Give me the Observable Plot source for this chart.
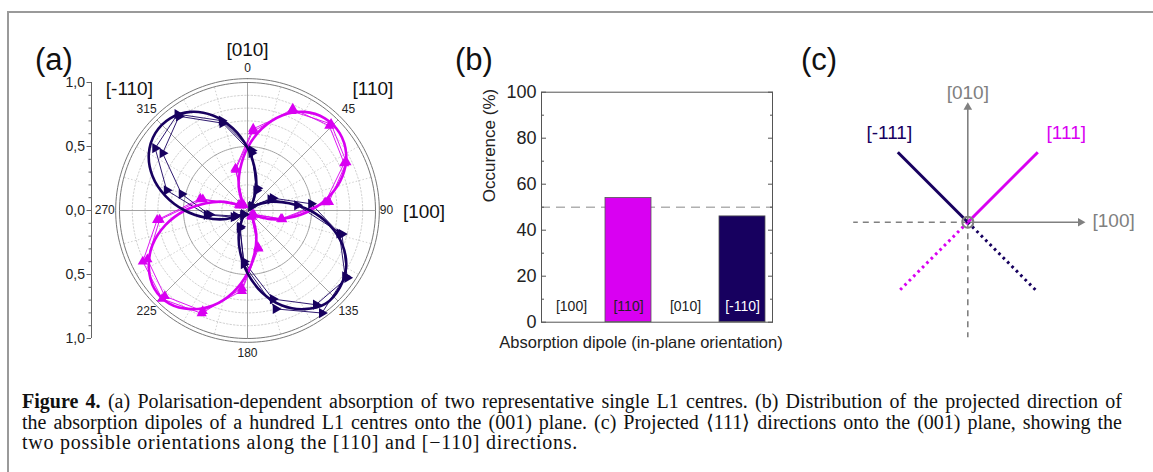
<!DOCTYPE html>
<html><head><meta charset="utf-8">
<script src="https://cdn.jsdelivr.net/npm/d3@7"></script>
<script src="https://cdn.jsdelivr.net/npm/@observablehq/plot@0.6"></script>
<style>
html,body{margin:0;padding:0;background:#fff;}
#fig{position:relative;width:1153px;height:472px;overflow:hidden;font-family:"Liberation Sans",Arial,sans-serif;background:#fff;}
.panel{position:absolute;}
.panel svg{overflow:visible;}
.plab{position:absolute;font-size:31px;line-height:1;color:#111;}
#cap{position:absolute;left:22px;top:391px;width:1100px;font-family:"Liberation Serif",serif;font-size:20px;line-height:20.5px;color:#111;}
#cap .j{text-align:justify;text-align-last:justify;}
#cap .l{letter-spacing:0.75px;}
</style></head><body>
<div id="fig">
<div style="position:absolute;left:7px;top:11px;width:1146px;height:2px;background:#9a9a9a"></div>
<div style="position:absolute;left:7px;top:11px;width:2px;height:461px;background:#9a9a9a"></div>
<div id="pa" class="panel" style="left:0;top:0"></div>
<div id="pb" class="panel" style="left:440px;top:70px"></div>
<div id="pc" class="panel" style="left:840px;top:60px"></div>
<div class="plab" style="left:35px;top:44px">(a)</div>
<div class="plab" style="left:455px;top:44px">(b)</div>
<div class="plab" style="left:801px;top:44px">(c)</div>
<div id="cap">
<div class="j"><b>Figure 4.</b> (a) Polarisation-dependent absorption of two representative single L1 centres. (b) Distribution of the projected direction of</div>
<div class="j">the absorption dipoles of a hundred L1 centres onto the (001) plane. (c) Projected ⟨111⟩ directions onto the (001) plane, showing the</div>
<div class="l">two possible orientations along the [110] and [−110] directions.</div>
</div>
</div>
<script>
// ---------------- DATA ----------------
// Panel (a): polar absorption data (angle in degrees, normalised absorption)
const dataAngles = [4, 24, 44, 64, 84, 104, 124, 144, 164, 184, 204, 224, 244, 264, 284, 304, 324, 344];
const magentaRun1 = [0.64, 0.85, 0.94, 0.86, 0.64, 0.28, 0.06, 0.05, 0.30, 0.61, 0.88, 0.96, 0.91, 0.71, 0.38, 0.08, 0.05, 0.34];
const magentaRun2 = [0.62, 0.87, 0.92, 0.84, 0.61, 0.27, 0.05, 0.06, 0.31, 0.63, 0.86, 0.93, 0.87, 0.69, 0.36, 0.07, 0.06, 0.33];
const navyRun1 = [0.47, 0.17, 0.04, 0.20, 0.39, 0.76, 0.94, 0.91, 0.72, 0.40, 0.15, 0.04, 0.12, 0.32, 0.65, 0.87, 0.93, 0.73];
const navyRun2 = [0.45, 0.19, 0.05, 0.22, 0.50, 0.74, 0.92, 0.99, 0.80, 0.42, 0.14, 0.05, 0.10, 0.30, 0.53, 0.80, 0.91, 0.71];
const fitAngles = [0, 10, 20, 30, 40, 50, 60, 70, 80, 90, 100, 110, 120, 130, 140, 150, 160, 170,
                   180, 190, 200, 210, 220, 230, 240, 250, 260, 270, 280, 290, 300, 310, 320, 330, 340, 350];
const magentaFit = [0.49, 0.65, 0.79, 0.89, 0.94, 0.94, 0.89, 0.79, 0.65, 0.49, 0.33, 0.20, 0.09, 0.04, 0.04, 0.09, 0.20, 0.33,
                    0.49, 0.65, 0.79, 0.89, 0.95, 0.95, 0.89, 0.79, 0.65, 0.49, 0.33, 0.20, 0.09, 0.04, 0.04, 0.09, 0.20, 0.33];
const navyFit = [0.49, 0.33, 0.20, 0.09, 0.04, 0.04, 0.09, 0.20, 0.33, 0.49, 0.65, 0.79, 0.89, 0.94, 0.95, 0.89, 0.79, 0.65,
                 0.49, 0.33, 0.20, 0.09, 0.04, 0.04, 0.09, 0.20, 0.33, 0.49, 0.65, 0.79, 0.89, 0.94, 0.94, 0.89, 0.79, 0.65];
const angleTicks = [0, 45, 90, 135, 180, 225, 270, 315];
const radialTicks = [-1, -0.5, 0, 0.5, 1];
const directionLabels = ["[010]", "[110]", "[100]", "[-110]"];
const directionAngles = [0, 45.8, 90.4, 315.9];

// Panel (b): occurrence of dipole orientations
const barCategories = ["[100]", "[110]", "[010]", "[-110]"];
const barValues = [0, 54, 0, 46];
const referenceLevel = 50;
const yTicksB = [0, 20, 40, 60, 80, 100];

// Panel (c): projected <111> directions (unit vectors in the (001) plane)
const projNames = ["[-111]", "[111]"];
const projDirs = [[-1, 1], [1, 1]];
const crystalAxes = ["[010]", "[100]"];

// ---------------- COLOURS ----------------
const MAG = "#d900f2", NAVY = "#17005f", GRAY = "#808080";
const DEG = Math.PI / 180;
const polar = (a, r) => ({x: r * Math.sin(a * DEG), y: r * Math.cos(a * DEG)});
const series = (angles, vals) => angles.map((a, i) => ({a, r: vals[i], ...polar(a, vals[i])}));

// ---------------- PANEL A ----------------
{
  const xMin = -1.21875;
  const ring = r => d3.range(0, 361, 2).map(a => polar(a, r));
  const gridMarks = [];
  [0.1, 0.2, 0.3, 0.4, 0.6, 0.7, 0.8, 0.9].forEach(r =>
    gridMarks.push(Plot.line(ring(r), {x: "x", y: "y", stroke: "#c4c4c4", strokeWidth: 0.8, strokeDasharray: "1.5,2"})));
  const spokesMinor = d3.range(0, 360, 15).filter(a => a % 45 !== 0).map(a => polar(a, 1));
  const spokesMajor = d3.range(0, 360, 45).map(a => polar(a, 1));
  gridMarks.push(Plot.link(spokesMinor, {x1: () => 0, y1: () => 0, x2: "x", y2: "y", stroke: "#c4c4c4", strokeWidth: 0.8, strokeDasharray: "1.5,2"}));
  gridMarks.push(Plot.link(spokesMajor, {x1: () => 0, y1: () => 0, x2: "x", y2: "y", stroke: "#999", strokeWidth: 0.9}));
  gridMarks.push(Plot.line(ring(0.5), {x: "x", y: "y", stroke: "#999", strokeWidth: 0.9}));
  gridMarks.push(Plot.line(ring(1.0), {x: "x", y: "y", stroke: "#777", strokeWidth: 1}));
  gridMarks.push(Plot.line(ring(1.03), {x: "x", y: "y", stroke: "#777", strokeWidth: 1}));

  const fmt = d => Math.abs(d).toFixed(1).replace(".", ",");
  const angleLabelData = angleTicks.map(a => ({t: String(a), ...polar(a, a === 90 ? 1.085 : 1.115)}));
  const dirLabelData = directionLabels.map((t, i) => ({t, ...polar(directionAngles[i], [1.254, 1.367, 1.379, 1.326][i])}));

  const chart = Plot.plot({
    width: 440, height: 380,
    marginLeft: 91, marginRight: 65, marginTop: 82, marginBottom: 42,
    x: {domain: [xMin, 1], axis: null},
    y: {domain: [-1, 1], axis: null},
    style: {background: "transparent", fontFamily: "Liberation Sans, Arial, sans-serif", color: "#222"},
    marks: [
      ...gridMarks,
      Plot.ruleX([xMin], {y1: () => -1, y2: () => 1, stroke: "#666", strokeWidth: 1}),
      Plot.axisY({ticks: d3.range(-10, 11).map(d => d / 10), tickSize: 2.5, tickFormat: () => "", stroke: "#666", label: null}),
      Plot.axisY({ticks: radialTicks, tickSize: 4.5, tickPadding: 2, tickFormat: fmt, fontSize: 14, stroke: "#666", label: null}),
      // measured data (thin lines, two runs each)
      Plot.line(series(dataAngles, magentaRun1), {x: "x", y: "y", curve: "linear-closed", stroke: MAG, strokeWidth: 0.9}),
      Plot.line(series(dataAngles, magentaRun2), {x: "x", y: "y", curve: "linear-closed", stroke: MAG, strokeWidth: 0.9}),
      Plot.line(series(dataAngles, navyRun1), {x: "x", y: "y", curve: "linear-closed", stroke: NAVY, strokeWidth: 0.9}),
      Plot.line(series(dataAngles, navyRun2), {x: "x", y: "y", curve: "linear-closed", stroke: NAVY, strokeWidth: 0.9}),
      // fits
      Plot.line(series(fitAngles, magentaFit), {x: "x", y: "y", curve: "catmull-rom-closed", stroke: MAG, strokeWidth: 2.6}),
      Plot.line(series(fitAngles, navyFit), {x: "x", y: "y", curve: "catmull-rom-closed", stroke: NAVY, strokeWidth: 2.6}),
      // markers
      Plot.dot(series(dataAngles, magentaRun1), {x: "x", y: "y", symbol: "triangle", fill: MAG, r: 3.8}),
      Plot.dot(series(dataAngles, magentaRun2), {x: "x", y: "y", symbol: "triangle", fill: MAG, r: 3.8}),
      Plot.dot(series(dataAngles, navyRun1), {x: "x", y: "y", symbol: "triangle", rotate: 90, fill: NAVY, r: 3.8}),
      Plot.dot(series(dataAngles, navyRun2), {x: "x", y: "y", symbol: "triangle", rotate: 90, fill: NAVY, r: 3.8}),
      // labels
      Plot.text(angleLabelData, {x: "x", y: "y", text: "t", fontSize: 12, fill: "#222"}),
      Plot.text(dirLabelData, {x: "x", y: "y", text: "t", fontSize: 19, fill: "#111"})
    ]
  });
  document.getElementById("pa").append(chart);
}

// ---------------- PANEL B ----------------
{
  const table = barCategories.map((c, i) => ({c, v: barValues[i]}));
  const chart = Plot.plot({
    width: 360, height: 300,
    marginLeft: 101, marginRight: 28, marginTop: 21.7, marginBottom: 48.3,
    x: {domain: barCategories, paddingInner: 0.19, paddingOuter: 0.095, axis: null},
    y: {domain: [0, 100], axis: null},
    color: {domain: barCategories, range: ["#fff", MAG, "#fff", NAVY]},
    style: {background: "transparent", fontFamily: "Liberation Sans, Arial, sans-serif", color: "#222"},
    marks: [
      Plot.ruleY([referenceLevel], {stroke: "#b0b0b0", strokeWidth: 1.6, strokeDasharray: "9,6"}),
      Plot.barY(table.filter(d => d.v > 0), {x: "c", y: "v", fill: "c", stroke: "#555", strokeWidth: 0.8}),
      Plot.text(table, {x: "c", y: () => 7, text: "c", fontSize: 14, fill: d => d.c === "[-110]" ? "#fff" : "#222"}),
      Plot.frame({stroke: "#555", strokeWidth: 1}),
      Plot.axisY({ticks: yTicksB, tickSize: -5, tickPadding: 10, fontSize: 18, stroke: "#555", label: null}),
      Plot.axisY({ticks: [10, 30, 50, 70, 90], tickSize: -3, tickFormat: () => "", stroke: "#555", label: null}),
      Plot.axisY({anchor: "right", ticks: yTicksB, tickSize: -5, tickFormat: () => "", stroke: "#555", label: null}),
      Plot.axisY({anchor: "right", ticks: [10, 30, 50, 70, 90], tickSize: -3, tickFormat: () => "", stroke: "#555", label: null}),
      Plot.text(["Occurence (%)"], {frameAnchor: "left", dx: -52, dy: -5, rotate: -90, fontSize: 17, fill: "#222"}),
      Plot.text(["Absorption dipole (in-plane orientation)"], {frameAnchor: "bottom", dy: 26, dx: -16, fontSize: 16.5, fill: "#222"})
    ]
  });
  document.getElementById("pb").append(chart);
}

// ---------------- PANEL C ----------------
{
  const upAxis = [{name: crystalAxes[0], x2: 0, y2: 1.15, rot: 0}];
  const rightAxis = [{name: crystalAxes[1], x2: 1.127, y2: 0, rot: 90}];
  const axesSegs = [...upAxis, ...rightAxis];
  const negSegs = [{x2: -1.146, y2: 0}, {x2: 0, y2: -1.15}];
  const L = 0.70;
  const solid = projNames.map((n, i) => ({n, x2: projDirs[i][0] * L, y2: projDirs[i][1] * L}));
  const dotted = projNames.map((n, i) => ({n, x2: -projDirs[i][0] * L, y2: -projDirs[i][1] * L}));
  const chart = Plot.plot({
    width: 300, height: 300,
    margin: 0,
    x: {domain: [-1.273, 1.727], axis: null},
    y: {domain: [-1.383, 1.617], axis: null},
    color: {domain: projNames, range: [NAVY, MAG]},
    style: {background: "transparent", fontFamily: "Liberation Sans, Arial, sans-serif"},
    marks: [
      Plot.link(negSegs, {x1: () => 0, y1: () => 0, x2: "x2", y2: "y2", stroke: GRAY, strokeWidth: 1.6, strokeDasharray: "6,5"}),
      Plot.link(axesSegs, {x1: () => 0, y1: () => 0, x2: "x2", y2: "y2", stroke: GRAY, strokeWidth: 1.6}),
      Plot.dot(axesSegs, {x: "x2", y: "y2", symbol: "triangle", rotate: "rot", fill: GRAY, r: 3.2}),
      Plot.link(dotted, {x1: () => 0, y1: () => 0, x2: "x2", y2: "y2", stroke: "n", strokeWidth: 3, strokeDasharray: "2.6,3.6"}),
      Plot.link(solid, {x1: () => 0, y1: () => 0, x2: "x2", y2: "y2", stroke: "n", strokeWidth: 3}),
      Plot.dot([0], {x: () => 0, y: () => 0, r: 5.5, stroke: GRAY, strokeWidth: 2, fill: "none"}),
      Plot.text(upAxis, {x: "x2", y: () => 1.297, text: "name", textAnchor: "middle", fill: GRAY, fontSize: 19}),
      Plot.text(rightAxis, {x: d => d.x2 + 0.12, y: () => 0.01, text: "name", textAnchor: "start", fill: GRAY, fontSize: 19}),
      Plot.text(solid, {x: d => d.x2 * 1.25 + (d.x2 < 0 ? 0.09 : 0.11), y: () => 0.897, text: "n", fill: "n", fontSize: 19})
    ]
  });
  document.getElementById("pc").append(chart);
}
</script>
</body></html>
